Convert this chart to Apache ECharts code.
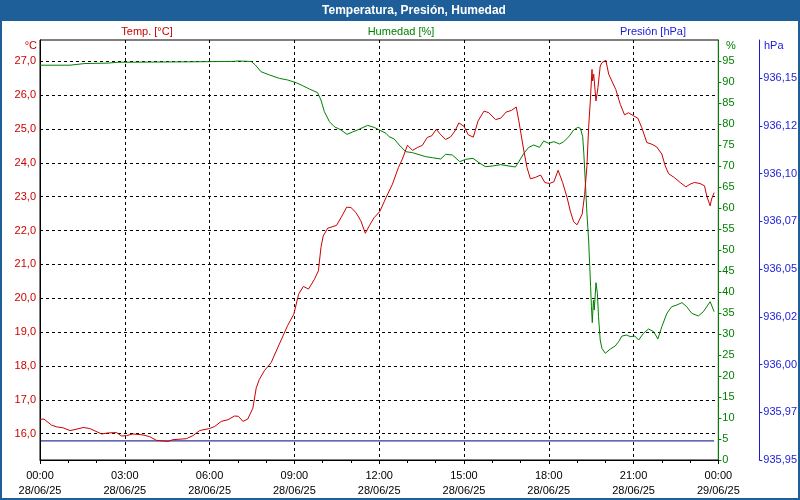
<!DOCTYPE html>
<html>
<head>
<meta charset="utf-8">
<script src="https://cdn.jsdelivr.net/npm/echarts@6.0.0/dist/echarts.min.js"></script>
<style>
html,body{margin:0;padding:0;background:#fff;}
#chart{width:800px;height:500px;}
</style>
</head>
<body>
<div id="chart"></div>
<script>
// ---- Data (hours since 28/06/25 00:00) ----
const tempTimes = [0.00,0.14,0.41,0.59,0.82,1.06,1.24,1.53,1.76,2.18,2.41,2.71,2.88,3.06,3.29,3.65,3.88,4.12,4.53,4.70,5.18,5.41,5.65,6.00,6.18,6.41,6.65,6.88,7.02,7.18,7.35,7.53,7.65,7.76,7.94,8.18,8.47,8.76,8.98,9.15,9.32,9.50,9.71,9.85,9.94,10.02,10.18,10.49,10.65,10.85,11.00,11.18,11.35,11.51,11.65,11.82,12.02,12.24,12.47,12.68,12.82,13.00,13.18,13.35,13.53,13.70,13.86,14.02,14.18,14.35,14.53,14.68,14.82,15.00,15.15,15.33,15.50,15.71,15.88,16.12,16.30,16.49,16.68,16.85,16.94,17.12,17.23,17.35,17.53,17.71,17.86,18.02,18.18,18.33,18.49,18.65,18.76,18.88,19.00,19.18,19.27,19.35,19.41,19.47,19.53,19.55,19.59,19.67,19.74,19.82,19.88,20.02,20.12,20.23,20.37,20.53,20.68,20.82,21.00,21.15,21.29,21.47,21.65,21.82,22.00,22.12,22.24,22.45,22.65,22.85,23.00,23.15,23.35,23.51,23.59,23.71,23.76,23.85];
const tempValues = [16.42,16.43,16.25,16.20,16.17,16.09,16.12,16.18,16.15,15.99,16.02,16.03,15.93,15.94,15.99,15.96,15.91,15.80,15.77,15.82,15.85,15.94,16.09,16.15,16.21,16.36,16.41,16.52,16.51,16.36,16.43,16.75,17.35,17.60,17.86,18.10,18.65,19.19,19.53,20.12,20.35,20.27,20.56,20.81,21.50,21.84,22.07,22.15,22.38,22.69,22.68,22.53,22.29,21.92,22.14,22.38,22.56,22.97,23.37,23.86,24.11,24.52,24.37,24.45,24.52,24.75,24.80,24.99,24.83,24.69,24.77,24.94,25.18,25.08,24.83,24.76,25.24,25.53,25.48,25.28,25.32,25.50,25.55,25.65,25.24,24.35,23.86,23.53,23.57,23.64,23.42,23.39,23.44,23.78,23.42,22.97,22.58,22.26,22.17,22.48,23.07,23.91,25.04,25.83,26.76,26.42,26.62,25.83,26.22,26.86,26.96,27.03,26.62,26.42,26.17,25.73,25.42,25.48,25.39,25.32,25.04,24.60,24.55,24.47,24.26,23.91,23.68,23.56,23.42,23.29,23.37,23.42,23.39,23.32,23.02,22.73,22.93,23.12];

const humTimes = [0.00,1.06,1.12,1.59,2.41,2.47,2.75,2.82,2.94,5.24,5.29,6.82,6.88,7.00,7.47,7.62,7.82,8.12,8.47,8.76,9.06,9.29,9.53,9.82,9.94,10.06,10.24,10.41,10.65,10.86,11.06,11.29,11.59,11.82,12.06,12.24,12.35,12.53,12.71,12.94,13.18,13.41,13.65,13.88,14.18,14.35,14.59,14.85,15.06,15.32,15.53,15.76,16.00,16.30,16.59,16.82,16.94,17.12,17.29,17.47,17.67,17.82,18.00,18.18,18.38,18.53,18.71,18.88,19.03,19.12,19.20,19.24,19.29,19.35,19.41,19.45,19.48,19.51,19.54,19.58,19.61,19.67,19.72,19.76,19.82,19.88,20.00,20.18,20.35,20.47,20.59,20.76,20.88,21.04,21.18,21.35,21.53,21.71,21.86,22.00,22.18,22.35,22.53,22.71,22.88,23.06,23.29,23.47,23.71,23.85];
const humValues = [94.0,94.0,94.2,94.4,94.5,94.7,94.7,94.4,94.7,94.8,94.9,94.9,95.2,95.0,94.9,94.05,92.45,91.67,90.87,90.48,89.84,89.13,88.33,87.46,85.71,82.94,80.56,79.37,78.57,77.54,78.1,78.73,79.68,79.2,78.41,77.78,76.98,76.43,75.0,73.41,73.17,72.70,72.22,71.98,71.67,72.78,72.62,71.03,71.59,71.83,70.79,69.84,70.0,70.32,70.0,69.76,71.03,73.02,74.44,75.0,74.44,75.95,75.40,75.79,75.24,75.79,76.98,78.57,79.2,78.97,76.98,73.02,66.67,58.73,52.38,46.03,41.27,36.5,32.7,38.1,35.7,42.22,39.68,34.13,28.57,26.59,25.4,26.43,27.14,28.17,29.52,29.76,29.37,29.52,28.57,30.16,31.19,30.56,28.81,31.75,34.92,36.51,36.9,37.46,36.51,34.92,34.29,35.32,37.7,35.32];

const presTimes = [0.00, 23.85];
const presValues = [935.96, 935.96];

const xTickLabels = ['00:00\n28/06/25','03:00\n28/06/25','06:00\n28/06/25','09:00\n28/06/25','12:00\n28/06/25','15:00\n28/06/25','18:00\n28/06/25','21:00\n28/06/25','00:00\n29/06/25'];
const tempTicks = [16,17,18,19,20,21,22,23,24,25,26,27];
const humTicks = [0,5,10,15,20,25,30,35,40,45,50,55,60,65,70,75,80,85,90,95];
const presTicks = [935.95,935.975,936.00,936.025,936.05,936.075,936.10,936.125,936.15];

const zip = (a, b) => a.map((t, i) => [t, b[i]]);
const FONT = 'Liberation Sans';
const RED = '#cc0000', GREEN = '#008000', BLUE = '#1a1ad8', BAR = '#1f5f99';

const chart = echarts.init(document.getElementById('chart'), null, {renderer: 'canvas'});
chart.setOption({
  animation: false,
  backgroundColor: '#ffffff',
  textStyle: {fontFamily: FONT, fontSize: 11},
  grid: {left: 40, right: 80, top: 40, bottom: 40, show: true, borderColor: '#000', borderWidth: 1, backgroundColor: '#fff', containLabel: false},
  graphic: [
    {type: 'rect', z: -10, shape: {x: 0, y: 0, width: 800, height: 21}, style: {fill: BAR}},
    {type: 'rect', z: 100, shape: {x: 1, y: 1, width: 798, height: 498}, style: {fill: 'none', stroke: BAR, lineWidth: 2}},
    {type: 'text', x: 414, y: 11, style: {text: 'Temperatura, Presión, Humedad', align: 'center', verticalAlign: 'middle', fill: '#fff', font: 'bold 12px "Liberation Sans"'}},
    {type: 'text', x: 147, y: 32, style: {text: 'Temp. [°C]', align: 'center', verticalAlign: 'middle', fill: RED, font: '11px "Liberation Sans"'}},
    {type: 'text', x: 401, y: 32, style: {text: 'Humedad [%]', align: 'center', verticalAlign: 'middle', fill: GREEN, font: '11px "Liberation Sans"'}},
    {type: 'text', x: 653, y: 32, style: {text: 'Presión [hPa]', align: 'center', verticalAlign: 'middle', fill: BLUE, font: '11px "Liberation Sans"'}},
    {type: 'text', x: 37, y: 46, style: {text: '°C', align: 'right', verticalAlign: 'middle', fill: RED, font: '11px "Liberation Sans"'}},
    {type: 'text', x: 726, y: 46, style: {text: '%', align: 'left', verticalAlign: 'middle', fill: GREEN, font: '11px "Liberation Sans"'}},
    {type: 'text', x: 764, y: 46, style: {text: 'hPa', align: 'left', verticalAlign: 'middle', fill: BLUE, font: '11px "Liberation Sans"'}}
  ],
  xAxis: {
    type: 'value', min: 0, max: 24, interval: 3,
    axisLine: {show: true, lineStyle: {color: '#000', width: 1}},
    axisTick: {show: true, length: 4, lineStyle: {color: '#000'}},
    minorTick: {show: true, splitNumber: 3, length: 3, lineStyle: {color: '#000'}},
    splitLine: {show: true, lineStyle: {color: '#000', type: [3, 3], width: 1}},
    axisLabel: {color: '#000', fontSize: 11, fontFamily: FONT, lineHeight: 15, margin: 8,
      formatter: v => xTickLabels[Math.round(v / 3)] || ''}
  },
  yAxis: [
    {
      type: 'value', position: 'left', min: 15.22, max: 27.63,
      axisLine: {show: true, lineStyle: {color: '#000'}},
      axisTick: {show: false, customValues: tempTicks},
      splitLine: {show: true, lineStyle: {color: '#000', type: [3, 3], width: 1}},
      axisLabel: {color: RED, fontSize: 11, fontFamily: FONT, margin: 4, customValues: tempTicks,
        formatter: v => v.toFixed(1).replace('.', ',')}
    },
    {
      type: 'value', position: 'right', offset: 0, min: 0, max: 100,
      axisLine: {show: true, lineStyle: {color: GREEN}},
      axisTick: {show: true, length: 3, lineStyle: {color: GREEN}, customValues: humTicks},
      splitLine: {show: false},
      axisLabel: {color: GREEN, fontSize: 11, fontFamily: FONT, margin: 4, customValues: humTicks}
    },
    {
      type: 'value', position: 'right', offset: 41, min: 935.95, max: 936.17,
      axisLine: {show: true, lineStyle: {color: BLUE}},
      axisTick: {show: true, length: 3, lineStyle: {color: BLUE}, customValues: presTicks},
      splitLine: {show: false},
      axisLabel: {color: BLUE, fontSize: 11, fontFamily: FONT, margin: 4, customValues: presTicks,
        formatter: v => (Math.floor(v * 100 + 1e-4) / 100).toFixed(2).replace('.', ',')}
    }
  ],
  series: [
    {type: 'line', name: 'Presión', yAxisIndex: 2, data: zip(presTimes, presValues), showSymbol: false, symbol: 'none',
      lineStyle: {color: '#000080', width: 1}},
    {type: 'line', name: 'Humedad', yAxisIndex: 1, data: zip(humTimes, humValues), showSymbol: false, symbol: 'none',
      lineStyle: {color: GREEN, width: 1}},
    {type: 'line', name: 'Temp.', yAxisIndex: 0, data: zip(tempTimes, tempValues), showSymbol: false, symbol: 'none',
      lineStyle: {color: RED, width: 1}}
  ]
});
</script>
</body>
</html>
